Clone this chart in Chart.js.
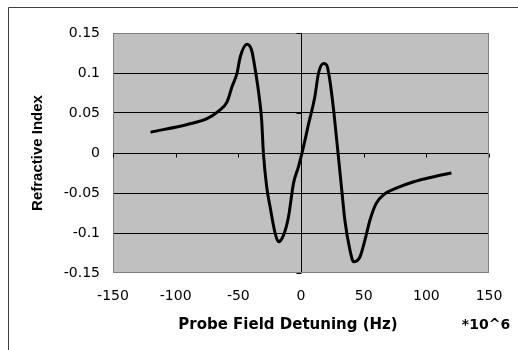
<!DOCTYPE html>
<html><head><meta charset="utf-8">
<script src="https://cdn.jsdelivr.net/npm/chart.js@4"></script>
<style>html,body{margin:0;padding:0;background:#fff}#wrap{width:518px;height:350px}</style>
</head><body><div id="wrap"><canvas id="c" width="518" height="350"></canvas></div>
<script>
const detuning = [-120,-90,-75,-66,-59,-55,-51,-48.5,-43,-39.5,-36.5,-33,-31.4,-30,-27.4,-24.7,-20.7,-18,-14,-10,-6,-2,2,6,11,14,18,20.5,23,26,28.5,30,32.5,35,39,42,47,51,55,60,66,76,90,105,120];
const refractiveIndex = [0.026,0.036,0.043,0.052,0.064,0.083,0.100,0.120,0.136,0.129,0.104,0.066,0.041,0.0,-0.042,-0.067,-0.100,-0.111,-0.103,-0.080,-0.038,-0.017,0.008,0.036,0.070,0.100,0.112,0.110,0.091,0.054,0.016,-0.007,-0.046,-0.084,-0.121,-0.136,-0.130,-0.109,-0.084,-0.063,-0.052,-0.044,-0.036,-0.030,-0.025];
const xTicks = [-150,-100,-50,0,50,100,150];
const yTicks = [-0.15,-0.1,-0.05,0,0.05,0.1,0.15];
const xTitle = 'Probe Field Detuning (Hz)';
const xUnit = '*10^6';
const yTitle = 'Refractive Index';

const points = detuning.map((x,i)=>({x:x, y:refractiveIndex[i]}));

const decor = {
  id:'decor',
  beforeDraw(chart){
    const {ctx, chartArea:a} = chart;
    ctx.save();
    ctx.fillStyle='#fff';
    ctx.fillRect(0,0,chart.width,chart.height);
    ctx.fillStyle='#c0c0c0';
    ctx.fillRect(a.left,a.top,a.right-a.left,a.bottom-a.top);
    ctx.restore();
  },
  afterDatasetsDraw(chart){
    const {ctx, chartArea:a, scales:{x,y}} = chart;
    ctx.save();
    ctx.strokeStyle='#808080'; ctx.lineWidth=1;
    ctx.strokeRect(Math.round(a.left)+0.5, Math.round(a.top)+0.5, Math.round(a.right-a.left)-1, Math.round(a.bottom-a.top)-1);
    ctx.strokeStyle='#000';
    const y0 = Math.round(y.getPixelForValue(0))+0.5;
    const x0 = Math.round(x.getPixelForValue(0))+0.5;
    ctx.beginPath();
    xTicks.forEach(v=>{ const px=Math.round(x.getPixelForValue(v))+0.5; ctx.moveTo(px,y0); ctx.lineTo(px,y0+4); });
    yTicks.forEach(v=>{ const py=Math.round(y.getPixelForValue(v))+0.5; ctx.moveTo(x0,py); ctx.lineTo(x0-5,py); });
    ctx.stroke();
    ctx.strokeStyle='#404040';
    ctx.beginPath(); ctx.moveTo(8.5,350); ctx.lineTo(8.5,7.5); ctx.lineTo(518,7.5); ctx.stroke();
    ctx.fillStyle='#000';
    ctx.textBaseline='middle'; ctx.textAlign='center';
    ctx.font='bold 15px "DejaVu Sans"';
    ctx.fillText(xTitle, 288, 325);
    ctx.font='bold 14px "DejaVu Sans"';
    ctx.fillText(xUnit, 486, 325);
    ctx.translate(38,153); ctx.rotate(-Math.PI/2);
    ctx.font='bold 15px "Liberation Sans"';
    ctx.fillText(yTitle,0,0);
    ctx.restore();
  }
};

new Chart(document.getElementById('c'),{
  type:'line',
  data:{datasets:[{data:points,borderColor:'#000',borderWidth:3,pointRadius:0,fill:false,cubicInterpolationMode:'monotone'}]},
  options:{
    responsive:false, animation:false, devicePixelRatio:1,
    layout:{padding:{left:0,top:33,right:29,bottom:0}},
    plugins:{legend:{display:false},tooltip:{enabled:false}},
    scales:{
      x:{type:'linear',min:-150,max:150,
        afterBuildTicks(s){s.ticks=xTicks.map(v=>({value:v}));},
        afterFit(s){s.height=77;},
        ticks:{padding:15,color:'#000',font:{family:'"DejaVu Sans"',size:14},maxRotation:0,callback:v=>String(v)},
        grid:{drawTicks:false,color:c=>(c.tick&&c.tick.value===0)?'#000':'rgba(0,0,0,0)'},
        border:{display:false}},
      y:{type:'linear',min:-0.15,max:0.15,
        afterBuildTicks(s){s.ticks=yTicks.map(v=>({value:v}));},
        afterFit(s){s.width=113;},
        ticks:{padding:13,color:'#000',font:{family:'"DejaVu Sans"',size:14},callback:v=>String(Math.round(v*100)/100)},
        grid:{drawTicks:false,color:c=>(c.tick&&Math.abs(c.tick.value)<0.14)?'#000':'rgba(0,0,0,0)'},
        border:{display:false}}
    }
  },
  plugins:[decor]
});
</script></body></html>
